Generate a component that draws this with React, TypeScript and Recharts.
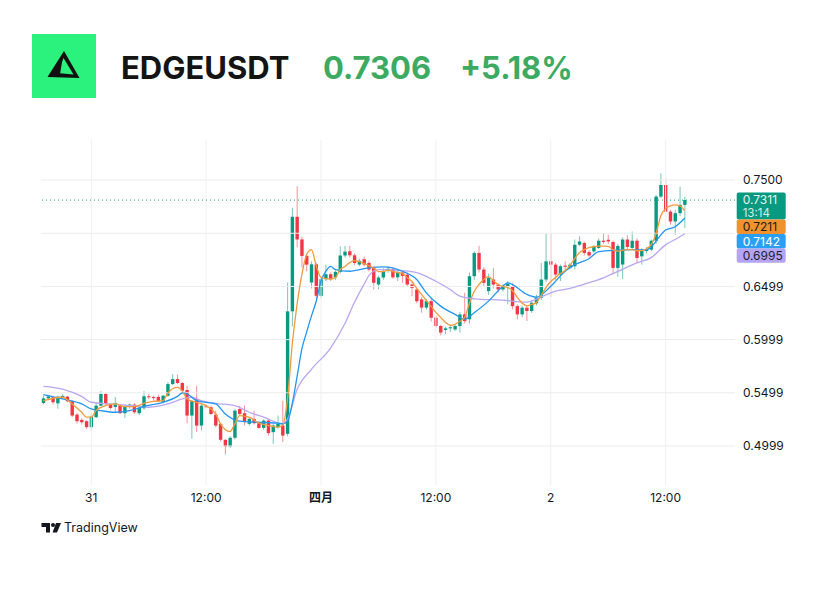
import React from "react";
import {
  ComposedChart,
  Bar,
  Line,
  XAxis,
  YAxis,
  ReferenceLine,
} from "recharts";

// 30 minute candles, [open, high, low, close]
const ohlc: [number, number, number, number][] = [
  [0.5403, 0.547, 0.539, 0.5447], [0.5447, 0.548, 0.543, 0.5465], [0.5457, 0.547, 0.539, 0.541],
  [0.54, 0.547, 0.535, 0.5463], [0.545, 0.5485, 0.544, 0.547], [0.5463, 0.547, 0.541, 0.542],
  [0.542, 0.543, 0.527, 0.5285], [0.5294, 0.531, 0.521, 0.5232], [0.5244, 0.526, 0.52, 0.5222],
  [0.5232, 0.524, 0.516, 0.5176], [0.5176, 0.53, 0.5145, 0.5275], [0.527, 0.541, 0.526, 0.5378],
  [0.5378, 0.5515, 0.537, 0.5488], [0.5488, 0.55, 0.538, 0.5394], [0.5394, 0.54, 0.534, 0.5356],
  [0.5366, 0.546, 0.532, 0.5403], [0.538, 0.539, 0.53, 0.5307], [0.5307, 0.539, 0.5263, 0.5373],
  [0.5369, 0.54, 0.535, 0.5388], [0.5388, 0.54, 0.53, 0.5316], [0.5307, 0.537, 0.529, 0.5357],
  [0.5354, 0.5515, 0.534, 0.5466], [0.5466, 0.549, 0.544, 0.5457], [0.5459, 0.5472, 0.5425, 0.5449],
  [0.546, 0.548, 0.541, 0.542], [0.541, 0.548, 0.54, 0.5472], [0.5472, 0.56, 0.546, 0.5581],
  [0.5581, 0.5675, 0.557, 0.5628], [0.5628, 0.567, 0.558, 0.5591], [0.5591, 0.56, 0.551, 0.5519],
  [0.5525, 0.5565, 0.5213, 0.5285], [0.5285, 0.543, 0.5066, 0.542], [0.544, 0.5565, 0.513, 0.5191],
  [0.5191, 0.54, 0.5144, 0.5378], [0.5375, 0.539, 0.535, 0.5362], [0.5363, 0.538, 0.529, 0.53],
  [0.5294, 0.5331, 0.5176, 0.5191], [0.5207, 0.521, 0.504, 0.5057], [0.5057, 0.506, 0.492, 0.4994],
  [0.4994, 0.509, 0.498, 0.5076], [0.5076, 0.535, 0.506, 0.5331], [0.5347, 0.5378, 0.529, 0.53],
  [0.5307, 0.5378, 0.5191, 0.5223], [0.5207, 0.527, 0.519, 0.5254], [0.5254, 0.5331, 0.52, 0.5213],
  [0.5213, 0.522, 0.516, 0.5169], [0.5169, 0.525, 0.515, 0.5238], [0.5238, 0.525, 0.5097, 0.512],
  [0.5129, 0.521, 0.502, 0.5191], [0.5176, 0.5285, 0.516, 0.5207], [0.5191, 0.5425, 0.5035, 0.5097],
  [0.5113, 0.6536, 0.509, 0.6265], [0.6265, 0.7238, 0.6124, 0.7154], [0.7154, 0.7441, 0.6866, 0.6941],
  [0.6941, 0.6966, 0.6676, 0.6786], [0.6786, 0.68, 0.664, 0.6704], [0.6536, 0.6735, 0.648, 0.6707],
  [0.6707, 0.672, 0.638, 0.6411], [0.6411, 0.6595, 0.639, 0.6567], [0.6567, 0.6704, 0.655, 0.6614],
  [0.6614, 0.663, 0.655, 0.6567], [0.6583, 0.665, 0.656, 0.6636], [0.6636, 0.6876, 0.662, 0.679],
  [0.679, 0.688, 0.677, 0.6826], [0.683, 0.688, 0.677, 0.6792], [0.6792, 0.681, 0.67, 0.672],
  [0.6705, 0.676, 0.669, 0.674], [0.6755, 0.678, 0.669, 0.6705], [0.672, 0.674, 0.664, 0.6658],
  [0.6673, 0.669, 0.647, 0.6533], [0.6517, 0.66, 0.6473, 0.6583], [0.6583, 0.667, 0.656, 0.6645],
  [0.6645, 0.669, 0.663, 0.6665], [0.666, 0.668, 0.657, 0.6585], [0.6585, 0.666, 0.655, 0.6636],
  [0.663, 0.665, 0.6533, 0.6598], [0.661, 0.663, 0.65, 0.6517], [0.6517, 0.653, 0.6408, 0.6486],
  [0.647, 0.649, 0.634, 0.636], [0.6377, 0.64, 0.6252, 0.63], [0.63, 0.638, 0.628, 0.6361],
  [0.6361, 0.639, 0.617, 0.6205], [0.6205, 0.622, 0.611, 0.6127], [0.6127, 0.614, 0.604, 0.6065],
  [0.609, 0.612, 0.605, 0.6105], [0.6105, 0.613, 0.607, 0.6115], [0.6095, 0.614, 0.608, 0.6127],
  [0.6127, 0.626, 0.6065, 0.6236], [0.6236, 0.644, 0.615, 0.6173], [0.619, 0.663, 0.615, 0.6595],
  [0.6595, 0.683, 0.656, 0.6814], [0.6814, 0.6882, 0.663, 0.6658], [0.6658, 0.668, 0.65, 0.6533],
  [0.6455, 0.662, 0.642, 0.658], [0.6564, 0.6673, 0.648, 0.6517], [0.6517, 0.653, 0.644, 0.647],
  [0.647, 0.652, 0.645, 0.6502], [0.65, 0.655, 0.633, 0.6525], [0.6501, 0.653, 0.6283, 0.6314],
  [0.6314, 0.633, 0.619, 0.6236], [0.6236, 0.632, 0.621, 0.6299], [0.6299, 0.632, 0.6174, 0.6268],
  [0.6268, 0.637, 0.625, 0.6346], [0.634, 0.642, 0.632, 0.6393], [0.6393, 0.672, 0.637, 0.6564],
  [0.6564, 0.7, 0.654, 0.6735], [0.6735, 0.7, 0.64, 0.6704], [0.6704, 0.672, 0.656, 0.6611],
  [0.6611, 0.6705, 0.655, 0.6689], [0.6695, 0.6735, 0.664, 0.6684], [0.6673, 0.672, 0.666, 0.6704],
  [0.6689, 0.694, 0.666, 0.6891], [0.6891, 0.697, 0.688, 0.6922], [0.6907, 0.692, 0.679, 0.6814],
  [0.6822, 0.684, 0.677, 0.679], [0.6829, 0.689, 0.681, 0.6876], [0.6861, 0.695, 0.685, 0.6929],
  [0.6929, 0.7, 0.69, 0.6917], [0.6938, 0.6985, 0.69, 0.6922], [0.6917, 0.693, 0.6623, 0.6673],
  [0.6673, 0.69, 0.659, 0.688], [0.6705, 0.696, 0.657, 0.694], [0.694, 0.698, 0.685, 0.687],
  [0.6861, 0.7016, 0.684, 0.6929], [0.6929, 0.695, 0.672, 0.6767], [0.6782, 0.686, 0.6704, 0.6845],
  [0.6832, 0.687, 0.681, 0.6845], [0.6845, 0.694, 0.683, 0.6929], [0.6929, 0.736, 0.69, 0.7344],
  [0.7344, 0.7563, 0.733, 0.7453], [0.7453, 0.7516, 0.719, 0.7203], [0.7203, 0.722, 0.708, 0.711],
  [0.711, 0.722, 0.6985, 0.7188], [0.7188, 0.7437, 0.716, 0.7266], [0.7266, 0.734, 0.705, 0.7311],
];

// moving averages: [candle index, value]
const maFast: [number, number][] = [
  [0, 0.5425], [4, 0.5457], [6, 0.5394], [8, 0.5316], [9, 0.527], [10, 0.527], [11, 0.5331],
  [13, 0.5378], [15, 0.5394], [17, 0.5369], [19, 0.5369], [21, 0.54], [23, 0.5419], [25, 0.5425],
  [26, 0.5497], [28, 0.555], [29, 0.5519], [30, 0.5441], [32, 0.541], [34, 0.5378], [36, 0.53],
  [37, 0.5207], [39, 0.5135], [40, 0.5207], [41, 0.5285], [43, 0.527], [45, 0.5216], [47, 0.5191],
  [49, 0.5176], [50, 0.5191], [51, 0.5441], [52, 0.5956], [53, 0.633], [54, 0.6611], [55, 0.6798],
  [56, 0.6845], [57, 0.6695], [58, 0.6583], [59, 0.6573], [60, 0.6569], [61, 0.6583], [62, 0.6658],
  [63, 0.6686], [64, 0.6723], [65, 0.6742], [66, 0.6733], [67, 0.6714], [68, 0.6695], [69, 0.6672],
  [70, 0.6639], [71, 0.6639], [72, 0.6653], [73, 0.6639], [74, 0.663], [75, 0.662], [76, 0.6583],
  [77, 0.6545], [78, 0.648], [79, 0.6424], [80, 0.6367], [81, 0.6311], [82, 0.6255], [83, 0.6208],
  [84, 0.6162], [85, 0.6134], [86, 0.6143], [87, 0.6171], [88, 0.6208], [89, 0.6339], [90, 0.6452],
  [91, 0.6517], [92, 0.6564], [93, 0.6592], [94, 0.6555], [95, 0.6517], [96, 0.65], [97, 0.6489],
  [98, 0.6461], [99, 0.6396], [100, 0.6344], [101, 0.6316], [102, 0.633], [103, 0.6349], [104, 0.6414],
  [105, 0.6489], [106, 0.6545], [107, 0.6583], [108, 0.662], [109, 0.6648], [110, 0.6695], [111, 0.676],
  [112, 0.6817], [113, 0.6845], [114, 0.6864], [115, 0.6873], [116, 0.6878], [117, 0.6878], [118, 0.6876],
  [119, 0.6845], [120, 0.6831], [121, 0.684], [122, 0.6845], [123, 0.6845], [124, 0.6836], [125, 0.6836],
  [126, 0.6854], [127, 0.6892], [128, 0.6995], [129, 0.7163], [130, 0.7233], [131, 0.7257], [132, 0.7266],
  [133, 0.7257], [134, 0.7211],
];

const maMid: [number, number][] = [
  [0, 0.5481], [4, 0.5441], [8, 0.5394], [10, 0.5347], [12, 0.5331], [15, 0.5316], [18, 0.5331],
  [21, 0.5372], [25, 0.541], [28, 0.5465], [29, 0.5497], [30, 0.5488], [32, 0.5425], [36, 0.5394],
  [38, 0.53], [41, 0.5232], [45, 0.5222], [49, 0.5213], [50, 0.5207], [51, 0.523], [52, 0.54],
  [53, 0.565], [54, 0.5909], [55, 0.607], [56, 0.622], [57, 0.636], [58, 0.655], [59, 0.664],
  [60, 0.6688], [61, 0.6658], [64, 0.6642], [68, 0.6674], [71, 0.6683], [75, 0.6642], [78, 0.6564],
  [80, 0.6439], [83, 0.6314], [86, 0.6236], [88, 0.619], [90, 0.6252], [93, 0.6361], [96, 0.6501],
  [97, 0.6533], [98, 0.6517], [101, 0.6424], [103, 0.6398], [106, 0.65], [109, 0.6642], [111, 0.6704],
  [114, 0.676], [116, 0.6826], [120, 0.684], [123, 0.6845], [126, 0.6842], [127, 0.6873], [130, 0.7029],
  [132, 0.706], [134, 0.7142],
];

const maSlow: [number, number][] = [
  [0, 0.556], [4, 0.5534], [8, 0.5465], [10, 0.541], [14, 0.5394], [20, 0.5372], [22, 0.5363],
  [26, 0.5394], [29, 0.5441], [31, 0.5457], [33, 0.5425], [36, 0.54], [40, 0.5378], [43, 0.5316],
  [46, 0.527], [50, 0.5207], [51, 0.525], [53, 0.553], [56, 0.572], [60, 0.592], [63, 0.615],
  [65, 0.635], [67, 0.652], [68, 0.66], [70, 0.6658], [75, 0.6648], [78, 0.663], [82, 0.6548],
  [85, 0.647], [87, 0.6408], [90, 0.6383], [96, 0.637], [101, 0.6352], [103, 0.638], [105, 0.642],
  [107, 0.6455], [110, 0.648], [113, 0.652], [117, 0.658], [120, 0.664], [124, 0.672], [127, 0.677],
  [130, 0.689], [132, 0.694], [134, 0.6995],
];

const timeLabels: { i: number; label: string }[] = [
  { i: 10, label: "31" },
  { i: 34, label: "12:00" },
  { i: 58, label: "四月" },
  { i: 82, label: "12:00" },
  { i: 106, label: "2" },
  { i: 130, label: "12:00" },
];

const priceTicks = [0.4999, 0.5499, 0.5999, 0.6499, 0.6999, 0.75];
const lastPrice = 0.7311;
const countdown = "13:14";
const maLastValues = ["0.7211", "0.7142", "0.6995"];
const emptySlots = 10;

const GREEN = "#089981";
const RED = "#f23645";
const ORANGE = "#f39b3c";
const BLUE = "#2196f3";
const PURPLE = "#b9a7f3";
const FONT = "Inter, 'Noto Sans CJK SC', sans-serif";

const toMap = (pts: [number, number][]) => new Map(pts.map(([i, v]) => [i, v]));
const fastMap = toMap(maFast);
const midMap = toMap(maMid);
const slowMap = toMap(maSlow);

const rows = Array.from({ length: ohlc.length + emptySlots }, (_, i) => {
  const c = ohlc[i];
  return {
    i,
    open: c ? c[0] : null,
    high: c ? c[1] : null,
    low: c ? c[2] : null,
    close: c ? c[3] : null,
    fast: fastMap.has(i) ? fastMap.get(i) : null,
    mid: midMap.has(i) ? midMap.get(i) : null,
    slow: slowMap.has(i) ? slowMap.get(i) : null,
  };
});

const Candle = (props: any) => {
  const { x, y, width, height, payload } = props;
  if (!payload || payload.open == null || isNaN(y)) return null;
  const { open, high, low, close } = payload;
  const top = Math.min(y, y + height);
  const bottom = Math.max(y, y + height);
  const span = high - low || 1;
  const py = (p: number) => top + ((high - p) / span) * (bottom - top);
  const cx = x + width / 2;
  const color = close >= open ? GREEN : RED;
  const bTop = py(Math.max(open, close));
  const bBot = py(Math.min(open, close));
  const bw = 3.4;
  return (
    <g>
      <line x1={cx} x2={cx} y1={top} y2={bottom} stroke={color} strokeOpacity={0.55} strokeWidth={1} />
      <rect x={cx - bw / 2} y={bTop} width={bw} height={Math.max(1, bBot - bTop)} fill={color} />
    </g>
  );
};

const TimeTick = (props: any) => {
  const { x, y, payload } = props;
  const t = timeLabels.find((l) => l.i === payload.value);
  if (!t) return null;
  return (
    <text
      x={x}
      y={y + 9}
      textAnchor="middle"
      fontSize={12}
      fontFamily={FONT}
      fontWeight={t.label === "四月" ? 700 : 400}
      fill="#131722"
    >
      {t.label}
    </text>
  );
};

const PriceTags = (props: any) => {
  const vb = props.viewBox;
  if (!vb) return null;
  const left = vb.x + vb.width + 1.7;
  const y = vb.y;
  const w = 49;
  const tags = [
    { top: y + 19.3, h: 14.7, fill: "#f0922d", text: "#1b1b1b" },
    { top: y + 34, h: 14.3, fill: "#2b9ff5", text: "#ffffff" },
    { top: y + 48.3, h: 14.4, fill: "#b5a3f6", text: "#1f1f2b" },
  ];
  return (
    <g fontFamily={FONT} fontSize={12}>
      <rect x={left} y={y - 7.7} width={w} height={27} rx={2} fill={GREEN} />
      <text x={left + 6} y={y + 4.2} fill="#e6f5f1">{lastPrice.toFixed(4)}</text>
      <text x={left + 6} y={y + 17} fontSize={11.5} fill="#d8efe9">{countdown}</text>
      {tags.map((t, k) => (
        <g key={k}>
          <rect x={left} y={t.top} width={w} height={t.h} rx={2} fill={t.fill} />
          <text x={left + 6} y={t.top + t.h / 2 + 4.3} fill={t.text}>
            {maLastValues[k]}
          </text>
        </g>
      ))}
    </g>
  );
};

const Header = () => (
  <svg width={832} height={110} style={{ position: "absolute", left: 0, top: 0 }}>
    <rect x={32} y={34} width={64} height={64} fill="#2bf27c" />
    <polygon points="64,51 79.5,78 47.5,77" fill="#111" />
    <polygon points="63.5,58 73.5,74.5 57,73" fill="#2bf27c" />
    <polygon points="64,51 56.5,73.5 60,74" fill="#111" />
    <text x={121} y={78.5} fontFamily={FONT} fontSize={31} fontWeight={700} fill="#141414">
      EDGEUSDT
    </text>
    <text x={323} y={78.5} fontFamily={FONT} fontSize={31} fontWeight={700} fill="#3cab61">
      0.7306
    </text>
    <text x={460} y={78.5} fontFamily={FONT} fontSize={31} fontWeight={700} fill="#3cab61">
      +5.18%
    </text>
  </svg>
);

const Footer = () => (
  <svg width={200} height={30} style={{ position: "absolute", left: 0, top: 515 }}>
    <path d="M41.5 8h8.5v9.5h-4v-5.5h-4.5z" fill="#131722" />
    <circle cx={53} cy={10} r={2} fill="#131722" />
    <polygon points="56,8 61,8 57,17.5 52.5,17.5" fill="#131722" />
    <text x={64} y={16.7} fontFamily={FONT} fontSize={12.5} fill="#131722">
      TradingView
    </text>
  </svg>
);

export default function App() {
  return (
    <div
      style={{
        position: "absolute",
        left: 0,
        top: 0,
        width: 832,
        height: 608,
        background: "#ffffff",
        overflow: "hidden",
      }}
    >
      <Header />
      <div style={{ position: "absolute", left: 0, top: 0 }}>
        <ComposedChart
          width={832}
          height={515}
          data={rows}
          margin={{ top: 140, right: 0, bottom: 0, left: 41 }}
          barCategoryGap={0}
        >
          {priceTicks.map((v) => (
            <ReferenceLine key={v} y={v} stroke="#ececec" />
          ))}
          {timeLabels.map((t) => (
            <ReferenceLine key={t.i} x={t.i} stroke="#f0f0f0" />
          ))}
          <XAxis
            dataKey="i"
            type="category"
            ticks={timeLabels.map((t) => t.i)}
            interval={0}
            tick={<TimeTick />}
            tickLine={false}
            axisLine={false}
            height={30}
          />
          <YAxis
            orientation="right"
            domain={[0.4632, 0.7876]}
            allowDataOverflow
            ticks={priceTicks}
            interval={0}
            width={97}
            tickLine={false}
            axisLine={false}
            tickSize={0}
            tickMargin={8}
            tick={{ fill: "#131722", fontSize: 12, fontFamily: FONT }}
            tickFormatter={(v: number) => (v === 0.6999 ? "" : v.toFixed(4))}
          />
          <Bar
            dataKey={(d: any) => (d.open == null ? null : [d.low, d.high])}
            shape={<Candle />}
            isAnimationActive={false}
          />
          <Line dataKey="slow" type="monotone" stroke={PURPLE} strokeWidth={1.3} dot={false} connectNulls isAnimationActive={false} />
          <Line dataKey="mid" type="monotone" stroke={BLUE} strokeWidth={1.3} dot={false} connectNulls isAnimationActive={false} />
          <Line dataKey="fast" type="monotone" stroke={ORANGE} strokeWidth={1.3} dot={false} connectNulls isAnimationActive={false} />
          <ReferenceLine
            y={lastPrice}
            stroke={GREEN}
            strokeDasharray="1 3"
            label={(p: any) => <PriceTags viewBox={p.viewBox} />}
          />
        </ComposedChart>
      </div>
      <Footer />
    </div>
  );
}
